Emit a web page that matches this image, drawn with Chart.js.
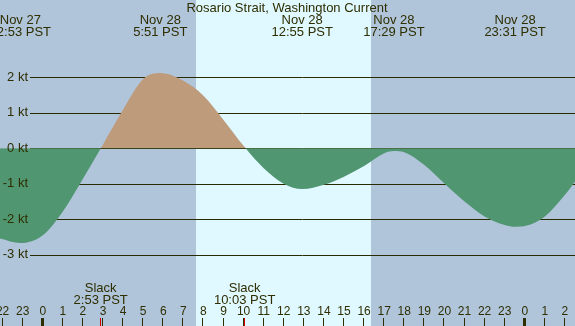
<!DOCTYPE html>
<html>
<head>
<meta charset="utf-8">
<script src="https://cdn.jsdelivr.net/npm/chart.js@4"></script>
<style>
html,body{margin:0;padding:0;background:#b0c4da;overflow:hidden}
canvas{display:block}
</style>
</head>
<body>
<canvas id="c" width="575" height="326"></canvas>
<script>
// ---- data (hours relative to Nov 28 00:00 PST, current in knots) ----
const hours  = [-2.13, -1.117, 0, 1, 2, 3, 4, 5, 5.85, 7, 8, 9, 10, 11, 12, 12.917, 14, 15, 16, 17, 17.483, 18, 19, 20, 21, 22, 23, 23.517, 24, 25, 26, 26.5];
const speeds = [-2.54, -2.67, -2.45, -1.78, -0.86, 0.11, 1.09, 1.95, 2.12, 1.90, 1.48, 0.80, 0.07, -0.56, -1.0, -1.15, -1.03, -0.80, -0.50, -0.14, -0.075, -0.11, -0.47, -0.99, -1.50, -1.92, -2.16, -2.21, -2.19, -1.92, -1.31, -0.94];

const title = 'Rosario Strait, Washington Current';
const extremaHours = [-1.117, 5.85, 12.917, 17.483, 23.517];
const extremaDates = ['Nov 27', 'Nov 28', 'Nov 28', 'Nov 28', 'Nov 28'];
const extremaTimes = ['22:53 PST', '5:51 PST', '12:55 PST', '17:29 PST', '23:31 PST'];
const slackHours = [2.883, 10.05];
const slackTimes = ['2:53 PST', '10:03 PST'];
const daylight = [7.62, 16.35];
const yTicks = [2, 1, 0, -1, -2, -3];
const yTickLabels = ['2 kt', '1 kt', '0 kt', '-1 kt', '-2 kt', '-3 kt'];
const hourTicks = [-2,-1,0,1,2,3,4,5,6,7,8,9,10,11,12,13,14,15,16,17,18,19,20,21,22,23,24,25,26];
const hourLabels = ['22','23','0','1','2','3','4','5','6','7','8','9','10','11','12','13','14','15','16','17','18','19','20','21','22','23','0','1','2'];

const NIGHT = '#b0c4da', DAY = '#e0f8ff', FLOOD = '#be9b7b', EBB = '#509670';
const INK = '#2e2e00', GRID = '#2a2a00', SLACK = '#d00000';
const FONT = '"Liberation Sans", Arial, sans-serif';

const decor = {
  id: 'decor',
  beforeDatasetsDraw(chart) {
    const {ctx, chartArea: a, scales: {x, y}} = chart;
    ctx.save();
    ctx.fillStyle = NIGHT;
    ctx.fillRect(a.left, a.top, a.right - a.left, a.bottom - a.top);
    ctx.fillStyle = DAY;
    const d0 = Math.round(x.getPixelForValue(daylight[0])), d1 = Math.round(x.getPixelForValue(daylight[1]));
    ctx.fillRect(d0, a.top, d1 - d0, a.bottom - a.top);
    ctx.strokeStyle = GRID; ctx.lineWidth = 1;
    yTicks.forEach(v => {
      const py = Math.round(y.getPixelForValue(v)) + 0.5;
      ctx.beginPath(); ctx.moveTo(30, py); ctx.lineTo(a.right, py); ctx.stroke();
    });
    ctx.restore();
  },
  afterDraw(chart) {
    const {ctx, chartArea: a, scales: {x, y}} = chart;
    ctx.save();
    ctx.fillStyle = INK;
    ctx.textBaseline = 'middle';
    ctx.font = '13px ' + FONT;
    ctx.textAlign = 'right';
    yTicks.forEach((v, i) => ctx.fillText(yTickLabels[i], 28, y.getPixelForValue(v)));
    ctx.textAlign = 'center';
    ctx.fillText(title, 287, 8);
    extremaHours.forEach((h, i) => {
      const px = x.getPixelForValue(h);
      ctx.fillText(extremaDates[i], px, 20);
      ctx.fillText(extremaTimes[i], px, 32);
    });
    slackHours.forEach((h, i) => {
      const px = x.getPixelForValue(h);
      ctx.fillText('Slack', px, 288);
      ctx.fillText(slackTimes[i], px, 300);
    });
    ctx.font = '12px ' + FONT;
    hourTicks.forEach((h, i) => {
      const px = x.getPixelForValue(h);
      ctx.fillText(hourLabels[i], px, 312);
      const major = (h % 24) === 0;
      if (major) ctx.fillRect(Math.round(px) - 2, 318, 3, 8);
      else ctx.fillRect(Math.round(px) - 1, 318, 1, 8);
    });
    ctx.fillText('3', 578, 297);
    ctx.fillStyle = SLACK;
    slackHours.forEach(h => {
      const px = x.getPixelForValue(h);
      ctx.fillRect(Math.round(px) - 1, 318, 1, 8);
    });
    ctx.restore();
  }
};

const points = hours.map((h, i) => ({x: h, y: speeds[i]}));

new Chart(document.getElementById('c'), {
  type: 'line',
  data: {
    datasets: [{
      data: points,
      borderWidth: 0,
      borderColor: 'rgba(0,0,0,0)',
      pointRadius: 0,
      cubicInterpolationMode: 'monotone',
      fill: {target: {value: 0}, above: FLOOD, below: EBB}
    }]
  },
  options: {
    responsive: false,
    devicePixelRatio: 1,
    animation: false,
    layout: {padding: 0},
    plugins: {legend: {display: false}, tooltip: {enabled: false}, title: {display: false}},
    scales: {
      x: {type: 'linear', min: -2.13, max: 26.5, display: false},
      y: {type: 'linear', min: -5.006, max: 4.177, display: false}
    }
  },
  plugins: [decor]
});
</script>
</body>
</html>
